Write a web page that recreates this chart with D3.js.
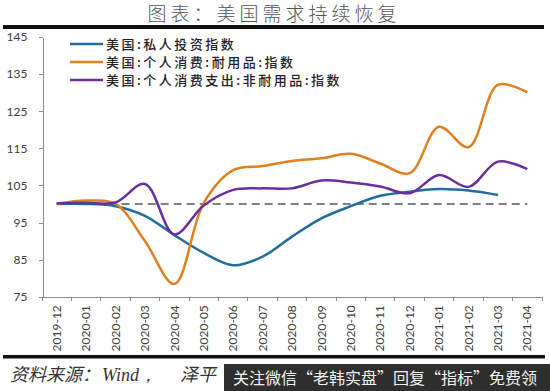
<!DOCTYPE html>
<html>
<head>
  <meta charset="UTF-8">
  <style>
    body {
      margin: 0;
      background: #fff;
    }
    svg text {
      font-family: Lato, 'Noto Sans CJK SC', sans-serif;
    }
    .axis path,
    .axis line {
      stroke: #8c8c8c;
      shape-rendering: crispEdges;
    }
    .axis text {
      font-size: 12px;
      fill: #404040;
    }
    .legend text {
      font-family: 'Noto Sans CJK SC', sans-serif;
      font-size: 13px;
      font-weight: 500;
      fill: #222;
      letter-spacing: 2.5px;
    }
  </style>
  <script src="https://d3js.org/d3.v7.min.js"></script>
</head>
<body>
<div id="chart"></div>
<script>
// months on the x axis
const months = ['2019-12', '2020-01', '2020-02', '2020-03', '2020-04', '2020-05', '2020-06',
  '2020-07', '2020-08', '2020-09', '2020-10', '2020-11', '2020-12', '2021-01', '2021-02',
  '2021-03', '2021-04'];

// series (index, 2019-12 = 100)
const investment = [100, 100, 99.4, 96.8, 91.6, 86.8, 83.5, 85.8, 91.2, 96.1, 99.4, 102.2,
  103.3, 104, 103.6, 102.4];
const durables = [100, 100.9, 100, 90, 78.4, 100.3, 109.1, 110.2, 111.6, 112.3, 113.5, 110.9,
  108.3, 120.8, 115.3, 132.1, 130.1];
const nondurables = [100.2, 100.3, 100.4, 105.4, 91.8, 99.6, 103.8, 104.2, 104.2, 106.3, 105.8,
  104.7, 102.9, 107.8, 104.6, 111.4, 109.4];

const yTicks = [75, 85, 95, 105, 115, 125, 135, 145];
const baseline = 100;

const seriesNames = ['美国:私人投资指数', '美国:个人消费:耐用品:指数', '美国:个人消费支出:非耐用品:指数'];
const seriesColors = ['#1f6e9c', '#e0801f', '#6a2f9e'];

const width = 550, height = 391;

const svg = d3.select('#chart').append('svg')
  .attr('width', width)
  .attr('height', height);

svg.append('rect').attr('width', width).attr('height', height).attr('fill', '#fff');

// title + heavy rule
svg.append('text')
  .attr('x', 274)
  .attr('y', 21)
  .attr('text-anchor', 'middle')
  .style('font-family', "'Noto Sans CJK SC', sans-serif")
  .style('font-weight', 300)
  .style('font-size', '19px')
  .style('letter-spacing', '4px')
  .attr('fill', '#555')
  .text('图表：美国需求持续恢复');

svg.append('rect').attr('x', 3).attr('y', 25).attr('width', 541).attr('height', 4).attr('fill', '#111');

const x = d3.scaleBand().domain(months).range([42, 542]);
const y = d3.scaleLinear().domain([75, 145]).range([296.7, 37]);
const cx = m => x(m) + x.bandwidth() / 2;

// y axis
svg.append('g')
  .attr('class', 'axis')
  .attr('transform', 'translate(42.5,0)')
  .call(d3.axisLeft(y).tickValues(yTicks).tickSize(4).tickSizeOuter(0).tickPadding(11));

// x axis, labels turned upright
const xAxis = svg.append('g')
  .attr('class', 'axis')
  .attr('transform', `translate(0,${y(75)})`)
  .call(d3.axisBottom(x).tickSize(0).tickSizeOuter(0));

xAxis.selectAll('text')
  .attr('transform', 'rotate(-90)')
  .attr('x', -8.5)
  .attr('y', 0)
  .attr('dy', '0.35em')
  .style('text-anchor', 'end');

// tick marks sit on the band edges
xAxis.selectAll('.edge')
  .data(months.concat(['end']))
  .enter().append('line')
  .attr('class', 'edge')
  .attr('x1', (d, i) => i < months.length ? x(d) : x.range()[1])
  .attr('x2', (d, i) => i < months.length ? x(d) : x.range()[1])
  .attr('y1', 0)
  .attr('y2', 4);

// dashed reference line at 100
svg.append('line')
  .attr('x1', cx(months[0]))
  .attr('x2', cx(months[months.length - 1]))
  .attr('y1', y(baseline))
  .attr('y2', y(baseline))
  .attr('stroke', '#808080')
  .attr('stroke-width', 2)
  .attr('stroke-dasharray', '8,5');

const line = d3.line()
  .x((d, i) => cx(months[i]))
  .y(d => y(d))
  .curve(d3.curveCatmullRom);

[investment, durables, nondurables].forEach((values, k) => {
  svg.append('path')
    .datum(values)
    .attr('d', line)
    .attr('fill', 'none')
    .attr('stroke', seriesColors[k])
    .attr('stroke-width', 2.5);
});

// legend
const legend = svg.append('g').attr('class', 'legend');
seriesNames.forEach((name, k) => {
  const ly = 44 + k * 18;
  legend.append('line')
    .attr('x1', 70).attr('x2', 103)
    .attr('y1', ly).attr('y2', ly)
    .attr('stroke', seriesColors[k])
    .attr('stroke-width', 2.5);
  legend.append('text')
    .attr('x', 106)
    .attr('y', ly)
    .attr('dy', '0.35em')
    .text(name);
});

// footer
svg.append('rect').attr('x', 3).attr('y', 355).attr('width', 542).attr('height', 3.5).attr('fill', '#111');

const src = svg.append('text')
  .attr('y', 381)
  .style('font-size', '18px')
  .style('font-style', 'italic')
  .attr('fill', '#333');
src.append('tspan').attr('x', 10).style('font-family', "'Noto Sans CJK SC', sans-serif").text('资料来源：');
src.append('tspan').attr('x', 102).style('font-family', "'Liberation Serif', serif").text('Wind，');
src.append('tspan').attr('x', 180).style('font-family', "'Noto Sans CJK SC', sans-serif").text('泽平');

// overlay banner from the screenshot
svg.append('rect').attr('x', 224).attr('y', 364).attr('width', 326).attr('height', 27).attr('fill', '#2e2e2e');
svg.append('text')
  .attr('x', 233)
  .attr('y', 384)
  .style('font-family', "'Noto Sans CJK SC', sans-serif")
  .style('font-size', '16px')
  .attr('fill', '#f2f2f2')
  .text('关注微信“老韩实盘”回复“指标”免费领');
</script>
</body>
</html>
